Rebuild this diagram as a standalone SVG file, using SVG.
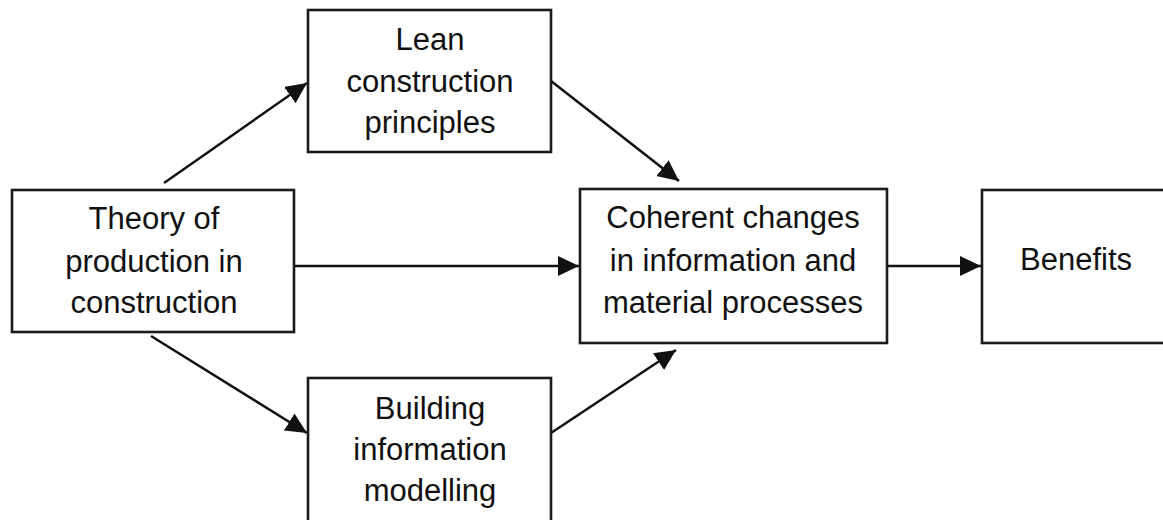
<svg xmlns="http://www.w3.org/2000/svg" width="1163" height="520" viewBox="0 0 1163 520">
<style>
.box{fill:#fff;stroke:#1a1a1a;stroke-width:2.6}
.lbl{font-family:"Liberation Sans",Arial,sans-serif;font-size:31px;fill:#111;text-anchor:middle}
.conn{stroke:#111;stroke-width:2.5;fill:none;marker-end:url(#ah)}
</style>
<defs>
<marker id="ah" markerUnits="userSpaceOnUse" markerWidth="24" markerHeight="22" refX="21" refY="10" orient="auto">
<path d="M0,0 L21,10 L0,20 Z" fill="#111"/>
</marker>
</defs>
<rect width="1163" height="520" fill="#fff"/>
<g id="connectors">
<line class="conn" x1="164" y1="183" x2="307" y2="83"/>
<line class="conn" x1="551" y1="81" x2="679" y2="181"/>
<line class="conn" x1="151" y1="336" x2="307" y2="433"/>
<line class="conn" x1="551" y1="433" x2="676" y2="350"/>
<line class="conn" x1="294" y1="266" x2="579" y2="266"/>
<line class="conn" x1="887" y1="266" x2="981" y2="266"/>
</g>
<g id="node-lean">
<rect class="box" x="308" y="10" width="243" height="142"/>
<text class="lbl" x="430" y="50">Lean</text>
<text class="lbl" x="430" y="92">construction</text>
<text class="lbl" x="430" y="133">principles</text>
</g>
<g id="node-theory">
<rect class="box" x="12" y="190" width="282" height="142"/>
<text class="lbl" x="154" y="229">Theory of</text>
<text class="lbl" x="154" y="272">production in</text>
<text class="lbl" x="154" y="313">construction</text>
</g>
<g id="node-coherent">
<rect class="box" x="580" y="189" width="307" height="154"/>
<text class="lbl" x="733" y="228">Coherent changes</text>
<text class="lbl" x="733" y="271">in information and</text>
<text class="lbl" x="733" y="313">material processes</text>
</g>
<g id="node-benefits">
<rect class="box" x="982" y="190" width="190" height="153"/>
<text class="lbl" x="1076" y="270">Benefits</text>
</g>
<g id="node-bim">
<rect class="box" x="308" y="378" width="243" height="150"/>
<text class="lbl" x="430" y="419">Building</text>
<text class="lbl" x="430" y="460">information</text>
<text class="lbl" x="430" y="501">modelling</text>
</g>
</svg>
